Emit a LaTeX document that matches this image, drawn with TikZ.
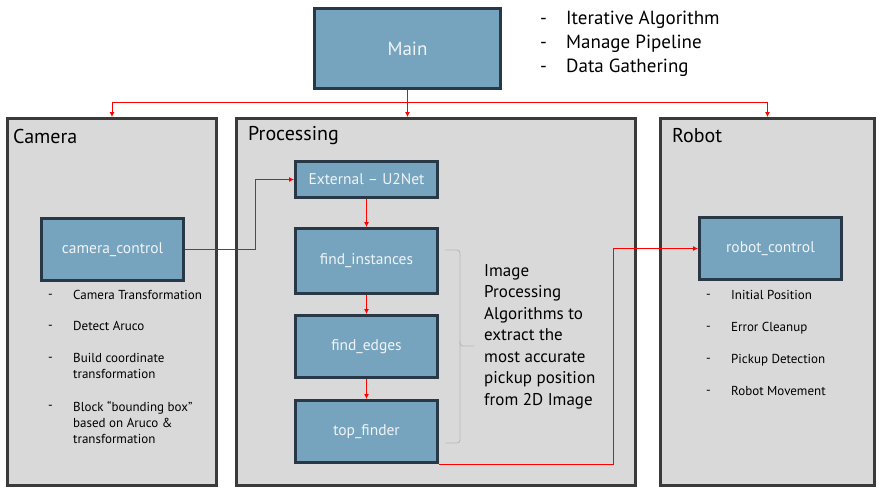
\documentclass[tikz,border=0pt]{standalone}
\usepackage{fontspec}
\setmainfont{PT Sans}
\usetikzlibrary{arrows.meta,calc}
\definecolor{boxfill}{RGB}{118,163,190}
\definecolor{boxdraw}{RGB}{40,56,70}
\definecolor{panelfill}{RGB}{217,217,217}
\definecolor{paneldraw}{RGB}{58,58,56}
\definecolor{braceclr}{RGB}{185,185,185}
\definecolor{lbl}{RGB}{240,244,247}
\begin{document}
\begin{tikzpicture}[x=1pt,y=-1pt,
  panel/.style={draw=paneldraw, fill=panelfill, line width=3pt, inner sep=0pt},
  block/.style={draw=boxdraw, fill=boxfill, line width=3pt, text=lbl, inner sep=0pt,
    minimum width=142pt, font=\fontsize{15.5}{18}\selectfont},
  arr/.style={draw=red, line width=0.8pt, -{Latex[length=5pt,width=5pt]}},
  title/.style={anchor=west, inner sep=0pt, font=\fontsize{20}{24}\selectfont},
  dashmark/.style={anchor=west, inner sep=0pt, font=\fontsize{13}{16}\selectfont},
  item/.style={anchor=north west, inner sep=0pt, align=left, font=\fontsize{13}{16}\selectfont},
  bigitem/.style={anchor=west, inner sep=0pt, font=\fontsize{19}{22}\selectfont},
  bracket/.style={draw=braceclr, line width=0.9pt},
]
\useasboundingbox (0,0) rectangle (879,493);
\fill[white] (0,0) rectangle (879,493);

% panels
\node[panel, minimum width=209pt, minimum height=367pt] (cam) at (112,302) {};
\node[panel, minimum width=399pt, minimum height=367pt] (proc) at (436,302) {};
\node[panel, minimum width=214pt, minimum height=367pt] (rob) at (767.5,302) {};
\node[title] (camt) at (13,136) {Camera};
\node[title] (proct) at (248,136) {Processing};
\node[title] (robt) at (672,136) {Robot};

% main
\node[block, minimum width=186pt, minimum height=80pt, font=\fontsize{19}{22}\selectfont] (main) at (407.5,48.5) {Main};
\node[bigitem] (d1) at (540,21) {-};
\node[bigitem] (t1) at (566,20) {Iterative Algorithm};
\node[bigitem] (d2) at (540,45) {-};
\node[bigitem] (t2) at (566,44) {Manage Pipeline};
\node[bigitem] (d3) at (540,69) {-};
\node[bigitem] (t3) at (566,68) {Data Gathering};

% blocks
\node[block, minimum height=62pt] (cc) at (112.5,249.5) {\raisebox{-1pt}{camera\_control}};
\node[block, minimum height=36pt] (ext) at (366.5,179.5) {\raisebox{-1pt}{External – U2Net}};
\node[block, minimum height=65pt] (fi) at (366.5,261) {\raisebox{-1pt}{find\_instances}};
\node[block, minimum height=62pt] (fe) at (366.5,346.5) {\raisebox{-1pt}{find\_edges}};
\node[block, minimum height=62pt] (tf) at (366.5,431.5) {\raisebox{-1pt}{top\_finder}};
\node[block, minimum height=62pt] (rc) at (770.5,248.5) {\raisebox{-1pt}{robot\_control}};

% camera items
\node[dashmark] (cd1) at (48,296) {-};
\node[item] (ci1) at (73,290) {Camera Transformation};
\node[dashmark] (cd2) at (48,327) {-};
\node[item] (ci2) at (73,321) {Detect Aruco};
\node[dashmark] (cd3) at (48,359) {-};
\node[item] (ci3) at (73,353) {Build coordinate\\transformation};
\node[dashmark] (cd4) at (48,407) {-};
\node[item] (ci4) at (73,401) {Block “bounding box”\\based on Aruco \&\\transformation};

% robot items
\node[dashmark] (rd1) at (706,296) {-};
\node[item] (ri1) at (731,290) {Initial Position};
\node[dashmark] (rd2) at (706,328) {-};
\node[item] (ri2) at (731,322) {Error Cleanup};
\node[dashmark] (rd3) at (706,360) {-};
\node[item] (ri3) at (731,354) {Pickup Detection};
\node[dashmark] (rd4) at (706,392) {-};
\node[item] (ri4) at (731,386) {Robot Movement};

% bracket and description
\coordinate (bt) at (445,250);
\coordinate (bb) at (445,443);
\coordinate (bm) at (460,346);
\coordinate (btip) at (474,346);
\draw[bracket, rounded corners=3pt] (bt) -| (bm) |- (bb);
\draw[bracket, rounded corners=3pt] ($(bm)+(0,-5)$) |- (btip);
\node[anchor=north west, inner sep=0pt, align=left, font=\fontsize{17}{21.5}\selectfont] (desc) at (484,264)
  {Image\\Processing\\Algorithms to\\extract the\\most accurate\\pickup position\\from 2D Image};

% connectors
\draw[arr] (main.south) -- (main.south |- proc.north);
\draw[arr] (main.south) -- ++(0,12) -| (cam.north);
\draw[arr] (main.south) -- ++(0,12) -| (rob.north);
\draw[arr] (cc.east) -- ++(70,0) |- (ext.west);
\draw[arr] (ext.south) -- (fi.north);
\draw[arr] (fi.south) -- (fe.north);
\draw[arr] (fe.south) -- (tf.north);
\draw[arr] (tf.south east) -- ++(174,0) |- (rc.west);
\end{tikzpicture}
\end{document}
